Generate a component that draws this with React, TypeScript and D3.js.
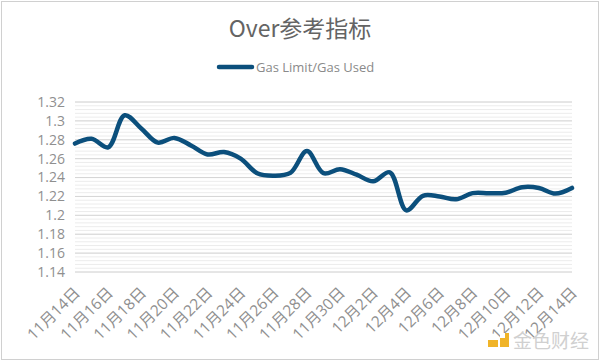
import React from "react";
import * as d3 from "d3";

const dates: string[] = [
  "11月14日","11月15日","11月16日","11月17日","11月18日","11月19日","11月20日","11月21日",
  "11月22日","11月23日","11月24日","11月25日","11月26日","11月27日","11月28日","11月29日",
  "11月30日","12月1日","12月2日","12月3日","12月4日","12月5日","12月6日","12月7日",
  "12月8日","12月9日","12月10日","12月11日","12月12日","12月13日","12月14日",
];
const values: number[] = [
  1.276, 1.281, 1.272, 1.306, 1.292, 1.277, 1.282, 1.274,
  1.2645, 1.267, 1.26, 1.2446, 1.242, 1.245, 1.268, 1.2446,
  1.2488, 1.243, 1.236, 1.2456, 1.2053, 1.2207, 1.22, 1.217,
  1.2235, 1.2235, 1.224, 1.2298, 1.229, 1.223, 1.229,
];
const yTicks: number[] = [1.14, 1.16, 1.18, 1.2, 1.22, 1.24, 1.26, 1.28, 1.3, 1.32];
const seriesName = "Gas Limit/Gas Used";
const title = "Over参考指标";

const W = 600, H = 361;
const left = 75, right = 572, top = 102, bottom = 272;
const lineColor = "#0B4F7C";
const font = "'Open Sans', 'Noto Sans CJK SC', sans-serif";

export default function App() {
  const x = d3.scalePoint<string>().domain(dates).range([left, right]);
  const y = d3.scaleLinear().domain([1.14, 1.32]).range([bottom, top]);
  const minor = d3.range(0, 46).map((i) => 1.14 + i * 0.004);
  const line = d3
    .line<number>()
    .x((_, i) => x(dates[i]) as number)
    .y((d) => y(d))
    .curve(d3.curveCatmullRom.alpha(0.5));
  const labelDates = dates.filter((_, i) => i % 2 === 0);
  return (
    <svg width={W} height={H} style={{ position: "fixed", left: 0, top: 0, background: "#fff" }}>
      <rect x={1.5} y={1.5} width={W - 3} height={H - 3} fill="#fff" stroke="#d0d0d0" strokeWidth={1} />
      <text x={300} y={37} textAnchor="middle" fontSize={23} fill="#646464" fontFamily="'Noto Sans CJK SC', 'Open Sans', sans-serif">
        {title}
      </text>
      <line x1={219} x2={252} y1={67} y2={67} stroke={lineColor} strokeWidth={4.5} strokeLinecap="round" />
      <text x={256} y={72} fontSize={13} fill="#8a8a8a" fontFamily={font}>{seriesName}</text>
      {minor.map((v, i) => (
        <line key={"m" + i} x1={left} x2={right} y1={y(v)} y2={y(v)} stroke="#ececec" strokeWidth={1} />
      ))}
      {yTicks.map((v) => (
        <line key={"g" + v} x1={left} x2={right} y1={y(v)} y2={y(v)} stroke="#d6d6d6" strokeWidth={1} />
      ))}
      {yTicks.map((v) => (
        <text key={"t" + v} x={65} y={y(v)} dy="0.35em" textAnchor="end" fontSize={14} fill="#8f8f8f" fontFamily={font}>
          {d3.format("")(+v.toFixed(2))}
        </text>
      ))}
      {labelDates.map((d) => (
        <text
          key={d}
          transform={`translate(${(x(d) as number) + 2},${290}) rotate(-45)`}
          textAnchor="end"
          dy="0.35em"
          fontSize={15.5}
          fill="#8f8f8f"
          fontFamily={font}
        >
          {d}
        </text>
      ))}
      <path d={line(values) || ""} fill="none" stroke={lineColor} strokeWidth={4.5} strokeLinejoin="round" strokeLinecap="round" />
      <g>
        <rect x={500} y={333} width={9} height={14} fill="#f0b429" />
        <rect x={488} y={340} width={10} height={7} fill="#f0b429" />
        <rect x={500} y={333} width={5} height={5} fill="#fff" />
        <text x={513} y={348} fontSize={19} fill="#d0d0d0" fontFamily="'Noto Sans CJK SC', sans-serif">金色财经</text>
      </g>
    </svg>
  );
}
